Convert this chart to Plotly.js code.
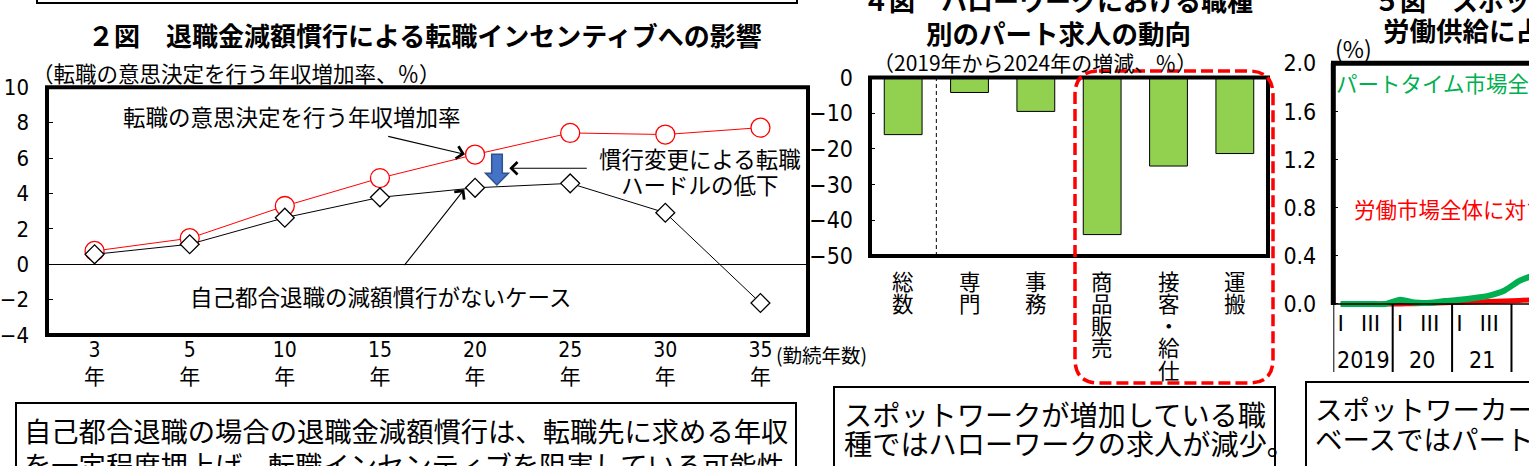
<!DOCTYPE html>
<html><head><meta charset="utf-8">
<script src="https://cdn.plot.ly/plotly-3.0.1.min.js"></script>
<style>html,body{margin:0;padding:0;background:#fff;overflow:hidden}#chart{width:1529px;height:466px}</style>
</head><body><div id="chart"></div>
<script>
// ---- Chart 2 data (退職金減額慣行) ----
const tenureYears = ['3','5','10','15','20','25','30','35'];
const requiredRaise = [0.75, 1.47, 3.29, 4.87, 6.20, 7.42, 7.33, 7.72];
const noPenaltyCase = [0.56, 1.13, 2.63, 3.78, 4.32, 4.57, 2.91, -2.19];
// ---- Chart 4 data (ハローワーク パート求人) ----
const occupations = ['総数','専門','事務','商品販売','接客・給仕','運搬'];
const hwPartChange = [-16.0, -4.2, -9.5, -44.0, -24.8, -21.3];
// ---- Chart 5 data (スポットワーカー比率, quarterly from 2019Q1) ----
const quarterTicks = ['Ⅰ','Ⅲ','Ⅰ','Ⅲ','Ⅰ','Ⅲ','Ⅰ'];
const yearLabels = ['2019','20','21'];
const partTimeShare = [0.00,0.00,0.00,0.00,0.036,0.012,0.010,0.025,0.035,0.050,0.070,0.110,0.190,0.240];
const laborShare    = [0.00,0.00,0.00,0.00,0.000,0.003,0.006,0.010,0.013,0.016,0.020,0.024,0.030,0.035];

const W = 1529, H = 466;
const X = p => p / W, Y = p => 1 - p / H;
const CJK = "'Noto Sans CJK JP', sans-serif";
const NUM = "'Liberation Sans Narrow','DejaVu Sans Condensed','Noto Sans CJK JP',sans-serif";
const qIdx = partTimeShare.map((_, i) => i);

const traces = [
  {x: tenureYears, y: requiredRaise, xaxis: 'x', yaxis: 'y', type: 'scatter', mode: 'lines+markers',
   line: {color: '#FF0000', width: 1}, marker: {symbol: 'circle', size: 19, color: '#fff', line: {color: '#FF0000', width: 1.3}}},
  {x: tenureYears, y: noPenaltyCase, xaxis: 'x', yaxis: 'y', type: 'scatter', mode: 'lines+markers',
   line: {color: '#000', width: 1}, marker: {symbol: 'diamond', size: 14.5, color: '#fff', line: {color: '#000', width: 1.3}}},
  {x: occupations, y: hwPartChange, xaxis: 'x2', yaxis: 'y2', type: 'bar',
   marker: {color: '#92D050', line: {color: '#000', width: 1}}},
  {x: qIdx, y: laborShare, xaxis: 'x3', yaxis: 'y3', type: 'scatter', mode: 'lines',
   line: {color: '#FF0000', width: 5, shape: 'spline', smoothing: 0.6}},
  {x: qIdx, y: partTimeShare, xaxis: 'x3', yaxis: 'y3', type: 'scatter', mode: 'lines',
   line: {color: '#00B050', width: 6, shape: 'spline', smoothing: 0.6}}
];

function rrPath(x0, y0, x1, y1, r) {
  const P = (x, y) => X(x) + ',' + Y(y);
  return 'M' + P(x0 + r, y0) + 'L' + P(x1 - r, y0) + 'Q' + P(x1, y0) + ' ' + P(x1, y0 + r) +
    'L' + P(x1, y1 - r) + 'Q' + P(x1, y1) + ' ' + P(x1 - r, y1) +
    'L' + P(x0 + r, y1) + 'Q' + P(x0, y1) + ' ' + P(x0, y1 - r) +
    'L' + P(x0, y0 + r) + 'Q' + P(x0, y0) + ' ' + P(x0 + r, y0) + 'Z';
}
function polyPath(pts) {
  return 'M' + pts.map(p => X(p[0]) + ',' + Y(p[1])).join('L') + 'Z';
}

const shapes = [
  // frames
  {type: 'rect', xref: 'x domain', yref: 'y domain', x0: 0, x1: 1, y0: 0, y1: 1, line: {color: '#000', width: 4}},
  {type: 'rect', xref: 'x2 domain', yref: 'y2 domain', x0: 0, x1: 1, y0: 0, y1: 1, line: {color: '#000', width: 4}},
  {type: 'line', xref: 'x2', yref: 'y2 domain', x0: 0.5, x1: 0.5, y0: 0, y1: 1, line: {color: '#000', width: 1, dash: '4px,3px'}},
  {type: 'line', xref: 'paper', yref: 'paper', x0: X(1333.3), x1: X(1333.3), y0: Y(63.3), y1: Y(305), line: {color: '#000', width: 5}},
  {type: 'line', xref: 'paper', yref: 'paper', x0: X(1331), x1: 1.02, y0: Y(63.3), y1: Y(63.3), line: {color: '#000', width: 5}},
  {type: 'line', xref: 'x3 domain', yref: 'y3', x0: 0, x1: 1, y0: 0, y1: 0, line: {color: '#000', width: 1.5}},
  // text boxes
  {type: 'rect', xref: 'paper', yref: 'paper', x0: X(37), x1: X(797), y0: Y(-20), y1: Y(3), line: {color: '#000', width: 2}},
  {type: 'rect', xref: 'paper', yref: 'paper', x0: X(16), x1: X(796), y0: Y(403), y1: Y(520), line: {color: '#000', width: 2}},
  {type: 'rect', xref: 'paper', yref: 'paper', x0: X(834), x1: X(1275), y0: Y(387), y1: Y(520), line: {color: '#000', width: 2}},
  {type: 'rect', xref: 'paper', yref: 'paper', x0: X(1306), x1: X(1600), y0: Y(382), y1: Y(520), line: {color: '#000', width: 2}},
  // red dashed rounded highlight
  {type: 'path', xref: 'paper', yref: 'paper', path: rrPath(1075, 71, 1273, 383, 24), line: {color: '#FF0000', width: 3.5, dash: '12px,5px'}},
  // blue block arrow
  {type: 'path', xref: 'paper', yref: 'paper',
   path: polyPath([[491.7,154.3],[502.3,154.3],[502.3,173.3],[508.3,173.3],[496.9,185],[485.5,173.3],[491.7,173.3]]),
   fillcolor: '#4472C4', line: {color: '#2F528F', width: 1.5}}
];
// year separators for chart 5
yearLabels.concat(['']).forEach((_, i) => {
  shapes.push({type: 'line', xref: 'x3', yref: 'paper', x0: i * 4 - 0.5, x1: i * 4 - 0.5, y0: Y(304), y1: Y(372), line: {color: '#000', width: 2}});
});

const ann = (x, y, text, size, opts) => Object.assign({
  xref: 'paper', yref: 'paper', x: X(x), y: Y(y), text: text, showarrow: false,
  xanchor: 'center', yanchor: 'middle', font: {family: CJK, size: size, color: '#000'}
}, opts || {});
const bold = (size) => ({family: CJK, size: size, color: '#000', weight: 'bold'});
const arrow = (hx, hy, tx, ty) => ({
  xref: 'paper', yref: 'paper', x: X(hx), y: Y(hy), ax: tx - hx, ay: ty - hy, axref: 'pixel', ayref: 'pixel',
  text: '', showarrow: true, arrowhead: 4, arrowsize: 2.2, arrowwidth: 1.1, arrowcolor: '#000'
});

const annotations = [
  ann(425, 35, '２図　退職金減額慣行による転職インセンティブへの影響', 26, {font: bold(26)}),
  ann(30, 72, '（転職の意思決定を行う年収増加率、％）', 21.5, {xanchor: 'left'}),
  ann(292, 116, '転職の意思決定を行う年収増加率', 22.5),
  ann(700, 158, '慣行変更による転職', 22.5),
  ann(700, 184, 'ハードルの低下', 22.5),
  ann(380, 296, '自己都合退職の減額慣行がないケース', 22.5),
  ann(774, 354, '(勤続年数)', 19.5, {xanchor: 'left'}),
  arrow(465, 154.3, 386.7, 136),
  arrow(509.3, 168.3, 588.3, 168.3),
  arrow(464.3, 189.3, 403.3, 266.7),
  // chart 4 titles
  ann(1058, -1, '４図　ハローワークにおける職種', 26, {font: bold(26)}),
  ann(1058, 33, '別のパート求人の動向', 26.5, {font: bold(26.5)}),
  ann(1035, 62, '（2019年から2024年の増減、％）', 21),
  // chart 5 titles & labels
  ann(1372, -1, '５図　スポットワーカーの割合', 26, {xanchor: 'left', font: bold(26)}),
  ann(1381, 29, '労働供給に占める割合', 26.5, {xanchor: 'left', font: bold(26.5)}),
  ann(1333, 48, '(%)', 23, {xanchor: 'left'}),
  ann(1334, 83, 'パートタイム市場全体に占める比率', 21.5, {xanchor: 'left', font: {family: CJK, size: 21.5, color: '#00B050'}}),
  ann(1352, 208, '労働市場全体に対する比率', 21.5, {xanchor: 'left', font: {family: CJK, size: 21.5, color: '#FF0000'}}),
  // text boxes
  ann(22, 430, '自己都合退職の場合の退職金減額慣行は、転職先に求める年収', 27.3, {xanchor: 'left'}),
  ann(22, 464, 'を一定程度押上げ、転職インセンティブを阻害している可能性', 27.3, {xanchor: 'left'}),
  ann(842, 413, 'スポットワークが増加している職', 28.2, {xanchor: 'left'}),
  ann(842, 442, '種ではハローワークの求人が減少。', 28.2, {xanchor: 'left'}),
  ann(1313, 408, 'スポットワーカー数', 27.5, {xanchor: 'left'}),
  ann(1313, 438, 'ベースではパート', 27.5, {xanchor: 'left'})
];
// vertical category labels for chart 4
occupations.forEach(c => {
  Array.from(c).forEach((ch, j) => {
    annotations.push({xref: 'x2', yref: 'paper', x: c, y: Y(280 + 22.3 * j), text: ch, showarrow: false,
      xanchor: 'center', yanchor: 'middle', font: {family: CJK, size: 21.5, color: '#000'}});
  });
});
// year labels chart 5
yearLabels.forEach((yl, i) => {
  annotations.push({xref: 'x3', yref: 'paper', x: i * 4 + 1.5, y: Y(360), text: yl, showarrow: false,
    xanchor: 'center', yanchor: 'middle', font: {family: NUM, size: 23, color: '#000'}});
});

const layout = {
  width: W, height: H, margin: {l: 0, r: 0, t: 0, b: 0},
  paper_bgcolor: '#fff', plot_bgcolor: 'rgba(0,0,0,0)', showlegend: false,
  font: {family: CJK, color: '#000'},
  xaxis: {domain: [X(47), X(808)], type: 'category', range: [-0.5, 7.5], anchor: 'y',
    tickvals: tenureYears, ticktext: tenureYears.map(t => t + '<br>年'),
    showgrid: false, zeroline: false, showline: false, ticks: '', tickfont: {family: NUM, size: 21}},
  yaxis: {domain: [Y(335), Y(87.3)], range: [-4, 10], dtick: 2, tick0: 0, anchor: 'x',
    ticks: 'inside', ticklen: 6, tickcolor: '#000', showgrid: false, showline: false,
    zeroline: true, zerolinecolor: '#000', zerolinewidth: 1,
    tickfont: {family: NUM, size: 22}, ticklabelstandoff: 17},
  xaxis2: {domain: [X(870), X(1268)], type: 'category', range: [-0.5, 5.5], anchor: 'y2',
    showticklabels: false, ticks: '', showgrid: false, zeroline: false, showline: false},
  yaxis2: {domain: [Y(256), Y(77.5)], range: [-50, 0], dtick: 10, anchor: 'x2',
    ticks: 'inside', ticklen: 5, tickcolor: '#000', showgrid: false, zeroline: false, showline: false,
    tickfont: {family: NUM, size: 23}, ticklabelstandoff: 16},
  bargap: 0.43,
  xaxis3: {domain: [X(1333.3), 1], range: [-0.5, 12.68], anchor: 'y3',
    tickvals: [0, 2, 4, 6, 8, 10, 12], ticktext: quarterTicks,
    ticks: '', showgrid: false, zeroline: false, showline: false, tickfont: {family: CJK, size: 22}},
  yaxis3: {domain: [Y(307.6), Y(63.3)], range: [-0.03, 2.0], dtick: 0.4, tick0: 0, tickformat: '.1f', anchor: 'x3',
    ticks: 'inside', ticklen: 5, tickcolor: '#000', showgrid: false, zeroline: false, showline: false,
    tickfont: {family: NUM, size: 23}, ticklabelstandoff: 16},
  shapes: shapes,
  annotations: annotations
};

Plotly.newPlot('chart', traces, layout, {staticPlot: true, displayModeBar: false});
</script>
</body></html>
